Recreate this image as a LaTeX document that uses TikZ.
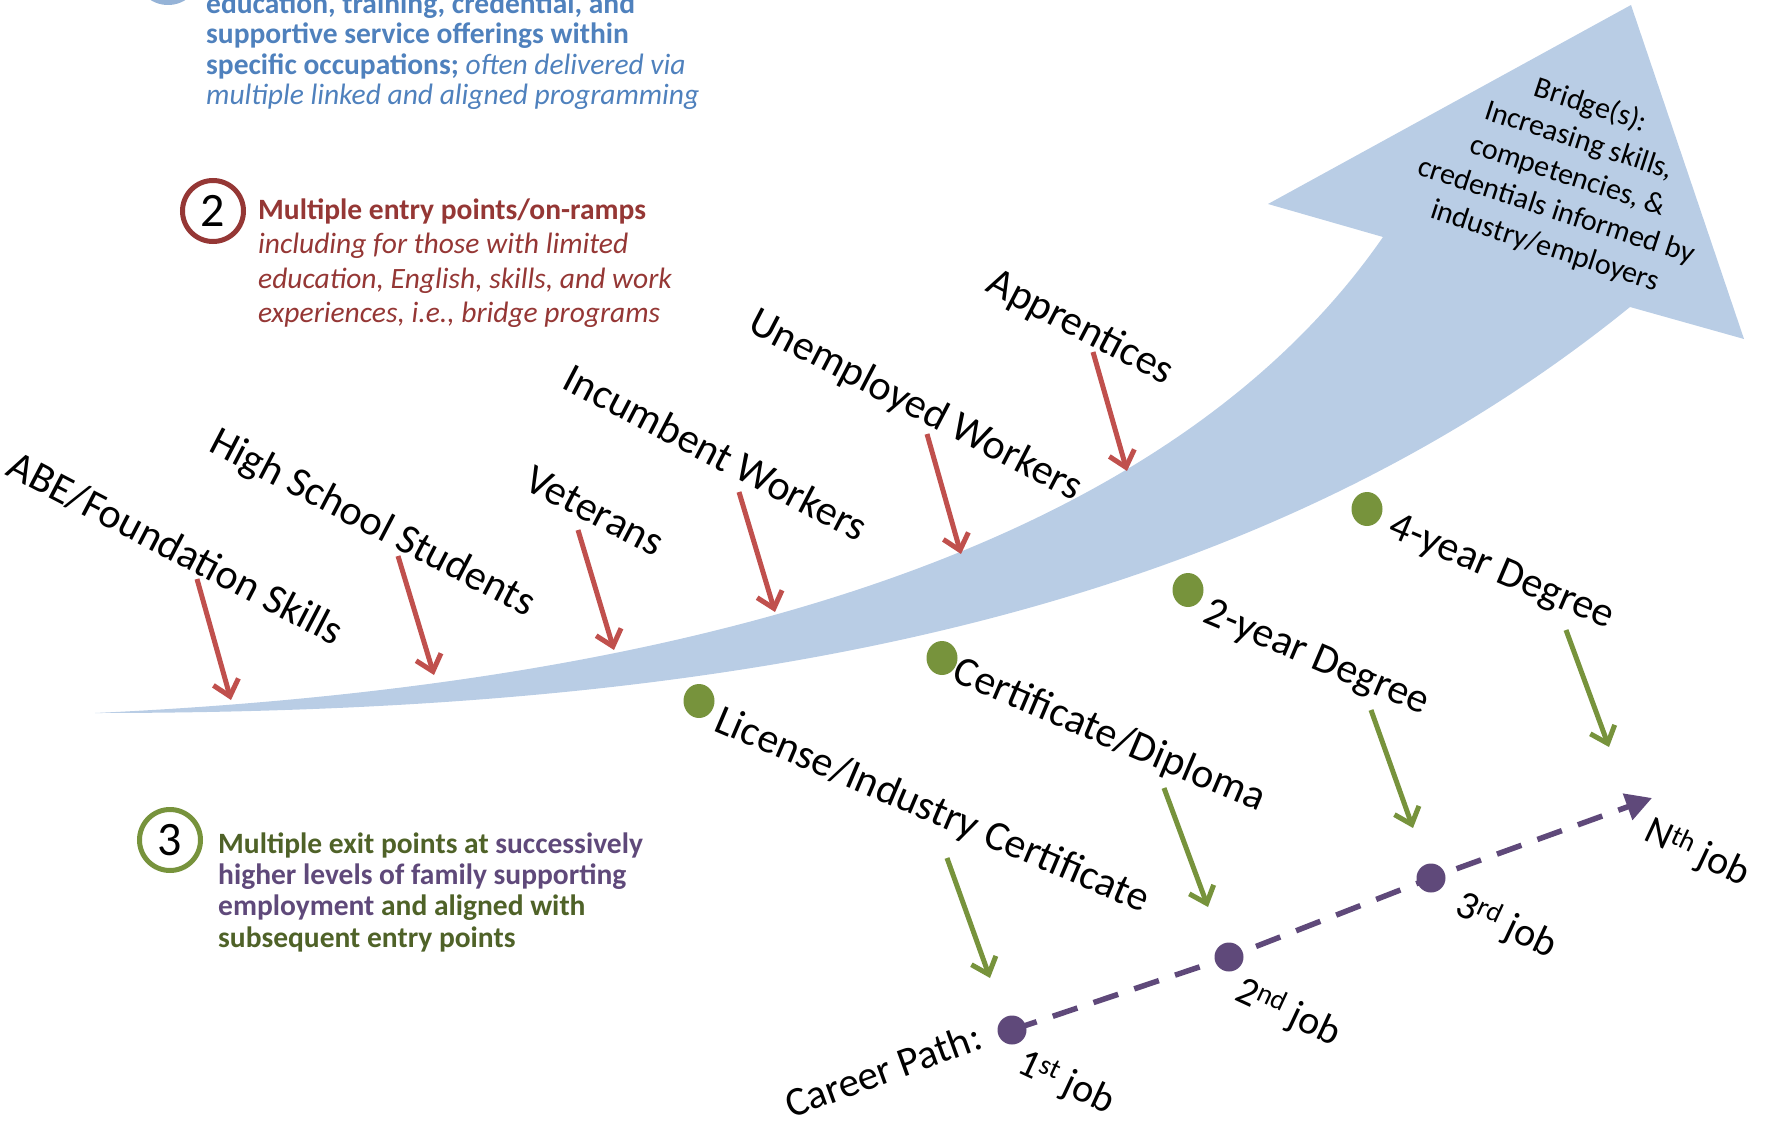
\documentclass[tikz,border=0pt]{standalone}
\usepackage{fontspec}
\setmainfont{Carlito}
\usetikzlibrary{arrows.meta,shapes.geometric}
\definecolor{bridgeblue}{HTML}{B9CDE5}
\definecolor{textblue}{HTML}{4F81BD}
\definecolor{ringblue}{HTML}{95B3D7}
\definecolor{entryred}{HTML}{C0504D}
\definecolor{darkred}{HTML}{953735}
\definecolor{exitgreen}{HTML}{77933C}
\definecolor{olivetext}{HTML}{4F6228}
\definecolor{jobpurple}{HTML}{5F497A}
\begin{document}
\begin{tikzpicture}[x=1pt,y=-1pt,
  entry/.style={rotate=-27.5, inner sep=0pt, font=\fontsize{42}{50}\selectfont},
  exitlabel/.style={rotate=-23, inner sep=0pt, font=\fontsize{42}{50}\selectfont},
  joblabel/.style={rotate=-25, inner sep=0pt, font=\fontsize{40}{48}\selectfont},
  entryarrow/.style={draw=entryred, line width=5pt, -{Straight Barb[length=15pt,width=26pt]}},
  exitarrow/.style={draw=exitgreen, line width=5pt, -{Straight Barb[length=15pt,width=26pt]}},
  exitdot/.style={ellipse, fill=exitgreen, minimum width=31pt, minimum height=34pt, inner sep=0pt},
  jobdot/.style={circle, fill=jobpurple, minimum size=29pt, inner sep=0pt},
  career/.style={draw=jobpurple, line width=5.5pt, dash pattern=on 26pt off 17pt, -{Triangle[length=26pt,width=27pt]}},
  numring/.style={circle, line width=5pt, fill=white, minimum size=61pt, inner sep=0pt, font=\fontsize{48}{48}\selectfont},
  block/.style={anchor=base west, align=left, inner sep=0pt}
]
\useasboundingbox (0,0) rectangle (1767,1123);
\clip (0,0) rectangle (1767,1123);

% the rising bridge arrow
\fill[bridgeblue] (95,713) .. controls (700,685) and (1170,545) .. (1383,237)
  -- (1268,204) -- (1631,5) -- (1744,339) -- (1630,307)
  .. controls (1230,631) and (695,713) .. (95,713) -- cycle;
\node[rotate=-18, align=center, inner sep=0pt, font=\fontsize{30}{37}\selectfont] (bridge) at (1568,176)
  {Bridge(s):\\Increasing skills,\\competencies, \&\\credentials informed by\\industry/employers};

% numbered notes (a multi-line block sits on the baseline of its last line)
\node[numring, draw=ringblue] (c1) at (168,-28) {};
\node[block, text=textblue, font=\fontsize{29.5}{30.5}\selectfont] (t1) at (206,105)
  {\textbf{education, training, credential, and}\\
   \textbf{supportive service offerings within}\\
   \textbf{specific occupations;} \textit{often delivered via}\\
   \textit{multiple linked and aligned programming}};

\node[numring, draw=darkred] (c2) at (213,211) {2};
\node[block, text=darkred, font=\fontsize{29.5}{34.5}\selectfont] (t2) at (258,323)
  {\textbf{Multiple entry points/on-ramps}\\
   \textit{including for those with limited}\\
   \textit{education, English, skills, and work}\\
   \textit{experiences, i.e., bridge programs}};

\node[numring, draw=exitgreen] (c3) at (170,840) {3};
\node[block, font=\bfseries\fontsize{29.5}{31.3}\selectfont] (t3) at (218,947)
  {\textcolor{olivetext}{Multiple exit points at} \textcolor{jobpurple}{successively}\\
   \textcolor{jobpurple}{higher levels of family supporting}\\
   \textcolor{jobpurple}{employment} \textcolor{olivetext}{and aligned with}\\
   \textcolor{olivetext}{subsequent entry points}};

% entry points
\node[entry] (e1) at (176,548) {ABE/Foundation Skills};
\node[entry] (e2) at (372,524) {High School Students};
\node[entry] (e3) at (595,511) {Veterans};
\node[entry] (e4) at (716,452) {Incumbent Workers};
\node[entry] (e5) at (915,406) {Unemployed Workers};
\node[entry] (e6) at (1080,328) {Apprentices};

\coordinate (e1s) at (197,579);  \coordinate (e1t) at (231,700);
\coordinate (e2s) at (398,556);  \coordinate (e2t) at (434,675);
\coordinate (e3s) at (578,530);  \coordinate (e3t) at (614,650);
\coordinate (e4s) at (739,492);  \coordinate (e4t) at (775,612);
\coordinate (e5s) at (927,434);  \coordinate (e5t) at (961,554);
\coordinate (e6s) at (1093,352); \coordinate (e6t) at (1127,471);
\foreach \i in {1,...,6} \draw[entryarrow] (e\i s) -- (e\i t);

% exit points
\node[exitdot] (g1) at (699,701) {};
\node[exitdot] (g2) at (942,658) {};
\node[exitdot] (g3) at (1188,590) {};
\node[exitdot] (g4) at (1367,509) {};
\node[exitlabel] (x1) at (932,811) {License/Industry Certificate};
\node[exitlabel] (x2) at (1109,736) {Certificate/Diploma};
\node[exitlabel] (x3) at (1316,659) {2-year Degree};
\node[exitlabel] (x4) at (1501,573) {4-year Degree};

\coordinate (x1s) at (947,858);  \coordinate (x1t) at (990,978);
\coordinate (x2s) at (1164,788); \coordinate (x2t) at (1208,907);
\coordinate (x3s) at (1371,710); \coordinate (x3t) at (1413,828);
\coordinate (x4s) at (1566,630); \coordinate (x4t) at (1609,747);
\foreach \i in {1,...,4} \draw[exitarrow] (x\i s) -- (x\i t);

% career path
\coordinate (p1) at (1012,1030);
\coordinate (p2) at (1229,957);
\coordinate (p3) at (1431,878);
\coordinate (pn) at (1652,798);
\draw[career] (p1) -- (p2) -- (p3) -- (pn);
\node[jobdot] (j1) at (p1) {};
\node[jobdot] (j2) at (p2) {};
\node[jobdot] (j3) at (p3) {};

\node[rotate=20, inner sep=0pt, font=\fontsize{41}{48}\selectfont] (cp) at (883,1070) {Career Path:};
\node[joblabel] (l1) at (1066,1083) {1\textsuperscript{st} job};
\node[joblabel] (l2) at (1288,1013) {2\textsuperscript{nd} job};
\node[joblabel] (l3) at (1506,926) {3\textsuperscript{rd} job};
\node[joblabel] (ln) at (1697,853) {N\textsuperscript{th} job};
\end{tikzpicture}
\end{document}
